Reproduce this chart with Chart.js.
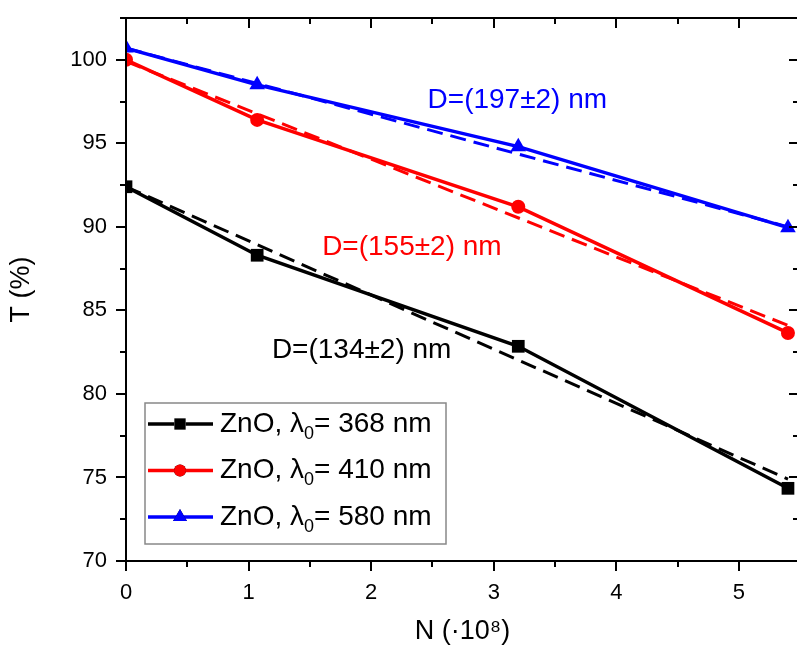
<!DOCTYPE html>
<html>
<head>
<meta charset="utf-8">
<script src="https://cdn.jsdelivr.net/npm/chart.js@4.4.1/dist/chart.umd.min.js"></script>
<style>
  html, body { margin: 0; padding: 0; background: #fff; overflow: hidden; }
  #chart { display: block; }
</style>
</head>
<body>
<canvas id="chart" width="797" height="648"></canvas>
<script>
// Data
const nValues = [0, 1.07, 3.2, 5.4];
const t368 = [92.4, 88.3, 82.85, 74.35];
const t410 = [100.0, 96.4, 91.2, 83.65];
const t580 = [100.7, 98.5, 94.8, 89.95];

// Linear fits (dashed)
const fitN = [0, 5.4];
const fit368 = [92.4, 74.9];
const fit410 = [99.9, 84.1];
const fit580 = [100.7, 90.0];

const xTicks = [0, 1, 2, 3, 4, 5];
const yTicks = [70, 75, 80, 85, 90, 95, 100];
const seriesNames = ['368', '410', '580'];

const FONT = '"Liberation Sans", Arial, sans-serif';
const PLOT_RIGHT = 799; // right axis sits just past the canvas edge
const toPts = (xs, ys) => xs.map((x, i) => ({ x: x, y: ys[i] }));

function solid(label, ys, color, style, radius) {
  return {
    label: label,
    data: toPts(nValues, ys),
    borderColor: color,
    backgroundColor: color,
    borderWidth: 3.5,
    pointStyle: style,
    pointRadius: radius,
    pointHoverRadius: radius,
    pointBorderWidth: 0,
    tension: 0,
    order: 1
  };
}

function dashed(ys, color) {
  return {
    label: '',
    data: toPts(fitN, ys),
    borderColor: color,
    borderWidth: 3,
    borderDash: [16, 8],
    pointRadius: 0,
    tension: 0,
    order: 2
  };
}

const colors = ['#000000', '#ff0000', '#0000ff'];
const styles = ['rect', 'circle', 'triangle'];
const radii = [9, 7, 9];

// kill the label overhang padding so the plot area sits where we want it
function fixBox(s, size) {
  if (s.isHorizontal()) s.height = size; else s.width = size;
  s.paddingTop = 0; s.paddingBottom = 0; s.paddingLeft = 0; s.paddingRight = 0;
}

// stretch the plot area out to the right edge
const stretchPlugin = {
  id: 'stretch',
  afterLayout(chart) {
    const x = chart.scales.x;
    x.right = PLOT_RIGHT;
    x.width = x.right - x.left;
    x.configure();
    chart.chartArea.right = PLOT_RIGHT;
    chart.chartArea.width = PLOT_RIGHT - chart.chartArea.left;
  }
};

// frame + tick marks (inward on top/right, outward on bottom/left)
const framePlugin = {
  id: 'frame',
  afterDraw(chart) {
    const { ctx, chartArea: a, scales: { x, y } } = chart;
    ctx.save();
    ctx.strokeStyle = '#000';
    ctx.lineWidth = 2;
    ctx.beginPath();
    ctx.moveTo(a.left, a.bottom); ctx.lineTo(a.right, a.bottom);
    ctx.moveTo(a.left, a.bottom + 1); ctx.lineTo(a.left, a.top);
    ctx.moveTo(a.left - 1, a.top); ctx.lineTo(a.right, a.top);
    for (let v = 0; v <= x.max; v += 0.5) {
      const px = Math.round(x.getPixelForValue(v));
      const len = Number.isInteger(v) ? 10 : 6;
      ctx.moveTo(px, a.bottom); ctx.lineTo(px, a.bottom + len);
      ctx.moveTo(px, a.top); ctx.lineTo(px, a.top + len);
    }
    for (let v = 70; v <= y.max; v += 2.5) {
      const py = Math.round(y.getPixelForValue(v));
      const len = v % 5 === 0 ? 10 : 6;
      ctx.moveTo(a.left, py); ctx.lineTo(a.left - len, py);
      ctx.moveTo(a.right, py); ctx.lineTo(a.right - len, py);
    }
    ctx.stroke();
    ctx.restore();
  }
};

// D labels
const notesPlugin = {
  id: 'notes',
  afterDatasetsDraw(chart) {
    const { ctx, scales: { x, y } } = chart;
    const notes = [
      { text: 'D=(197±2) nm', x: 2.46, y: 97.6, color: '#0000ff' },
      { text: 'D=(155±2) nm', x: 1.60, y: 88.8, color: '#ff0000' },
      { text: 'D=(134±2) nm', x: 1.19, y: 82.6, color: '#000000' }
    ];
    ctx.save();
    ctx.font = '28px ' + FONT;
    ctx.textBaseline = 'middle';
    ctx.textAlign = 'left';
    notes.forEach(n => {
      ctx.fillStyle = n.color;
      ctx.fillText(n.text, x.getPixelForValue(n.x), y.getPixelForValue(n.y));
    });
    ctx.restore();
  }
};

// boxed legend with subscript lambda_0
const legendPlugin = {
  id: 'boxLegend',
  afterDraw(chart) {
    const { ctx } = chart;
    const box = { x: 145, y: 403, w: 301, h: 141 };
    ctx.save();
    ctx.fillStyle = '#fff';
    ctx.fillRect(box.x, box.y, box.w, box.h);
    ctx.strokeStyle = '#888';
    ctx.lineWidth = 1.5;
    ctx.strokeRect(box.x, box.y, box.w, box.h);
    seriesNames.forEach((name, i) => {
      const ds = chart.data.datasets[i];
      const cy = 424 + i * 46.5;
      ctx.strokeStyle = ds.borderColor;
      ctx.lineWidth = 3.5;
      ctx.beginPath();
      ctx.moveTo(148, cy); ctx.lineTo(213, cy);
      ctx.stroke();
      Chart.helpers.drawPoint(ctx, { pointStyle: ds.pointStyle, radius: ds.pointRadius - 1, borderWidth: 0, rotation: 0 }, 180, cy);
      ctx.fillStyle = ds.borderColor;
      ctx.fill();
      ctx.fillStyle = '#000';
      ctx.textBaseline = 'middle';
      ctx.textAlign = 'left';
      ctx.font = '28px ' + FONT;
      let tx = 220;
      const a = 'ZnO, λ';
      ctx.fillText(a, tx, cy);
      tx += ctx.measureText(a).width;
      ctx.font = '18px ' + FONT;
      ctx.fillText('0', tx, cy + 10);
      tx += ctx.measureText('0').width;
      ctx.font = '28px ' + FONT;
      ctx.fillText('= ' + name + ' nm', tx, cy);
    });
    ctx.restore();
  }
};

new Chart(document.getElementById('chart'), {
  type: 'line',
  data: {
    datasets: [
      solid('ZnO, λ0= 368 nm', t368, colors[0], styles[0], radii[0]),
      solid('ZnO, λ0= 410 nm', t410, colors[1], styles[1], radii[1]),
      solid('ZnO, λ0= 580 nm', t580, colors[2], styles[2], radii[2]),
      dashed(fit368, colors[0]),
      dashed(fit410, colors[1]),
      dashed(fit580, colors[2])
    ]
  },
  options: {
    responsive: false,
    animation: false,
    layout: { padding: { top: 18, right: 0, left: 0, bottom: 0 } },
    plugins: {
      legend: { display: false },
      tooltip: { enabled: false }
    },
    scales: {
      x: {
        type: 'linear',
        min: 0,
        max: 5.49,
        afterFit: s => fixBox(s, 87),
        afterBuildTicks: s => { s.ticks = xTicks.map(v => ({ value: v })); },
        grid: { display: false, drawTicks: false },
        border: { display: false },
        ticks: { padding: 19, color: '#000', font: { family: FONT, size: 22 } },
        title: {
          display: true,
          text: 'N (·10⁸)',
          color: '#000',
          font: { family: FONT, size: 27 },
          padding: { top: 0, bottom: 0 }
        }
      },
      y: {
        min: 70,
        max: 102.5,
        afterFit: s => fixBox(s, 126),
        afterBuildTicks: s => { s.ticks = yTicks.map(v => ({ value: v })); },
        grid: { display: false, drawTicks: false },
        border: { display: false },
        ticks: { padding: 19, color: '#000', font: { family: FONT, size: 22 } },
        title: {
          display: true,
          text: 'T (%)',
          color: '#000',
          font: { family: FONT, size: 27 },
          padding: { top: 5, bottom: 0 }
        }
      }
    }
  },
  plugins: [stretchPlugin, framePlugin, notesPlugin, legendPlugin]
});
</script>
</body>
</html>
